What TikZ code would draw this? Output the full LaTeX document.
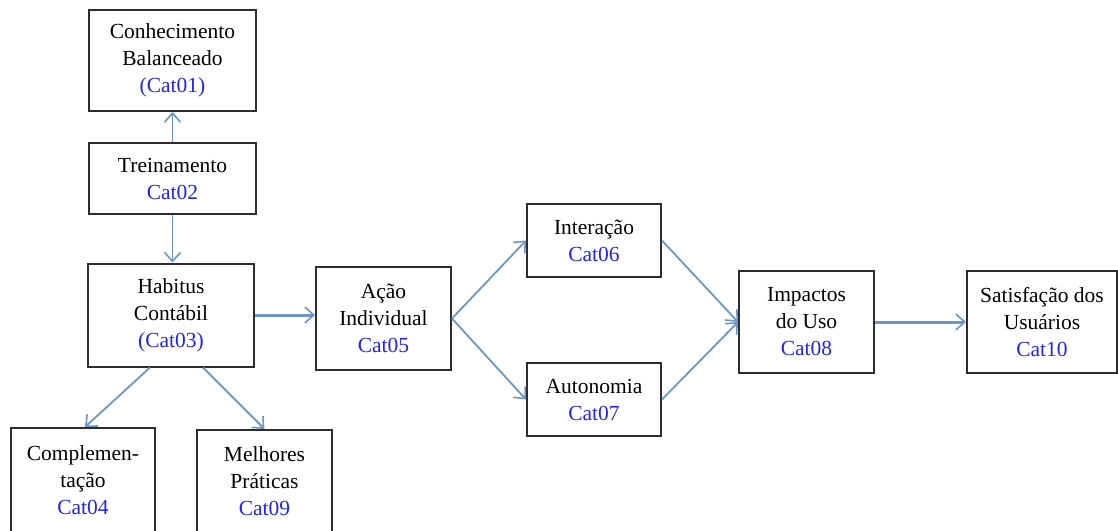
\documentclass[tikz,border=0pt]{standalone}
\usepackage{fontspec}
\setmainfont{Liberation Serif}
\usetikzlibrary{arrows.meta,calc}
\definecolor{boxline}{RGB}{45,45,45}
\definecolor{arr}{RGB}{110,150,196}
\definecolor{catblue}{RGB}{35,35,240}
\newcommand{\cat}[1]{\textcolor{catblue}{#1}}
\begin{document}
\begin{tikzpicture}[x=1pt,y=-1pt,
  cbox/.style={draw=boxline,line width=2pt,fill=white,inner sep=0pt,align=center,
    font=\fontsize{21.5}{27}\selectfont},
  link/.style={draw=arr,line width=1.8pt,-{Straight Barb[length=9pt,width=16pt,line width=1.6pt]}},
  thick link/.style={link,line width=3pt}]
\useasboundingbox (0,0) rectangle (1118,530);
\node[cbox,minimum width=167,minimum height=101] (c01) at (172.5,60.5) {Conhecimento\\Balanceado\\\cat{(Cat01)}};
\node[cbox,minimum width=167,minimum height=71] (c02) at (172.5,178.5) {Treinamento\\\cat{Cat02}};
\node[cbox,minimum width=166,minimum height=103] (c03) at (171,315) {Habitus\\Contábil\\\cat{(Cat03)}};
\node[cbox,minimum width=135,minimum height=103] (c05) at (383.5,318.5) {Ação\\Individual\\\cat{Cat05}};
\node[cbox,minimum width=134,minimum height=73] (c06) at (594,240.5) {Interação\\\cat{Cat06}};
\node[cbox,minimum width=134,minimum height=73] (c07) at (594,399.5) {Autonomia\\\cat{Cat07}};
\node[cbox,minimum width=135,minimum height=102] (c08) at (806.5,322) {Impactos\\do Uso\\\cat{Cat08}};
\node[cbox,minimum width=150,minimum height=102] (c10) at (1042,322) {Satisfação dos\\Usuários\\\cat{Cat10}};
\node[cbox,minimum width=144,minimum height=104] (c04) at (83,480) {Complemen-\\tação\\\cat{Cat04}};
\node[cbox,minimum width=135,minimum height=102] (c09) at (264.5,481) {Melhores\\Práticas\\\cat{Cat09}};
\draw[link] (c02.north) -- (c01.south);
\draw[link] (c02.south) -- (c02.south |- c03.north);
\draw[thick link] (c03.east) -- (c03.east -| c05.west);
\draw[link] ([xshift=-21pt]c03.south) -- ([xshift=2pt]c04.north);
\draw[link] ([xshift=32pt]c03.south) -- (c09.north);
\draw[link] (c05.east) -- (c06.west);
\draw[link] (c05.east) -- (c07.west);
\draw[link] (c06.east) -- (c08.west);
\draw[link] (c07.east) -- (c08.west);
\draw[thick link] (c08.east) -- (c10.west);
\end{tikzpicture}
\end{document}
